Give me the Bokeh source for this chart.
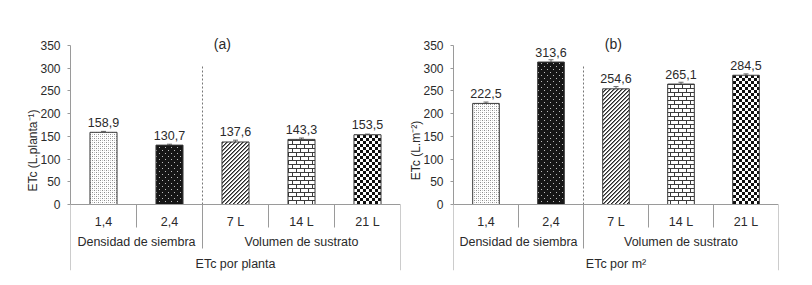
import base64, struct, zlib
from bokeh.plotting import figure
from bokeh.layouts import row
from bokeh.models import (Range1d, FixedTicker, Span, ColumnDataSource, ImageURLTexture, Whisker)
from bokeh.core.properties import value
from bokeh.embed import file_html
from bokeh.resources import INLINE

# ---------------- data ----------------
categories = ["1,4", "2,4", "7 L", "14 L", "21 L"]
groups = ["Densidad de siembra", "Volumen de sustrato"]
group_sizes = [2, 3]
etc_planta = [158.9, 130.7, 137.6, 143.3, 153.5]
etc_planta_err = [2.0, 2.0, 4.0, 3.0, 1.5]
etc_m2 = [222.5, 313.6, 254.6, 265.1, 284.5]
etc_m2_err = [3.0, 5.0, 5.0, 4.0, 3.0]
y_ticks = [0, 50, 100, 150, 200, 250, 300, 350]
panel_titles = ["(a)", "(b)"]
panel_groups = ["ETc por planta", "ETc por m²"]
y_labels = ["ETc (L.planta⁻¹)", "ETc (L.m⁻²)"]

FONT = "Liberation Sans"
TXT = "#2a2a2a"
AX = "#9a9a9a"


# ---------------- textures ----------------
def png_b64(pix):
    h = len(pix); w = len(pix[0])
    raw = b"".join(b"\x00" + bytes([c for px in r for c in px]) for r in pix)
    def chunk(t, d):
        return struct.pack(">I", len(d)) + t + d + struct.pack(">I", zlib.crc32(t + d) & 0xffffffff)
    data = (b"\x89PNG\r\n\x1a\n" + chunk(b"IHDR", struct.pack(">IIBBBBB", w, h, 8, 2, 0, 0, 0))
            + chunk(b"IDAT", zlib.compress(raw)) + chunk(b"IEND", b""))
    return "data:image/png;base64," + base64.b64encode(data).decode()


W = (255, 255, 255)

def tile(n, m, f):
    return [[f(x, y) for x in range(n)] for y in range(m)]

tex = {
    "p0": tile(4, 4, lambda x, y: (140, 140, 140) if (x, y) in [(0, 0), (2, 2)]
               else ((200, 200, 200) if (x, y) in [(2, 0), (0, 2)] else W)),
    "p1": tile(6, 6, lambda x, y: (190, 190, 190) if (x, y) in [(0, 0), (3, 3)] else (22, 22, 22)),
    "p2": tile(4, 4, lambda x, y: (40, 40, 40) if (x + y) % 4 == 0 else ((130, 130, 130) if (x + y) % 4 == 1 else W)),
    "p3": tile(8, 8, lambda x, y: (60, 60, 60) if (y % 4 == 0 or (y < 4 and x == 0) or (y > 4 and x == 4)) else W),
    "p4": tile(6, 6, lambda x, y: (15, 15, 15) if ((x // 3) + (y // 3)) % 2 == 0 else W),
}
textures = {k: ImageURLTexture(url=png_b64(v), repetition="repeat") for k, v in tex.items()}
pattern_keys = ["p0", "p1", "p2", "p3", "p4"]


def make_panel(vals, errs, title, group_title, ylabel, width, left, right, title_x):
    k = 159.0 / 350.0          # px per unit
    top_px, frame_h = 30, 240
    ytop = 350 + 15 / k
    ybot = -(frame_h - 15 - 159) / k
    p = figure(width=width, height=285, output_backend="svg", toolbar_location=None,
               x_range=Range1d(0, len(categories)), y_range=Range1d(ybot, ytop),
               min_border_left=left, min_border_right=right, min_border_top=top_px,
               min_border_bottom=285 - top_px - frame_h)
    p.outline_line_color = None
    p.xaxis.visible = False
    p.xgrid.visible = False
    p.ygrid.visible = False
    p.background_fill_color = "white"
    p.border_fill_color = "white"

    ax = p.yaxis[0]
    ax.ticker = FixedTicker(ticks=y_ticks)
    ax.bounds = (0, 350)
    ax.axis_line_color = AX
    ax.major_tick_line_color = AX
    ax.major_tick_out = 3
    ax.major_tick_in = 0
    ax.minor_tick_line_color = None
    ax.major_label_text_font = FONT
    ax.major_label_text_font_size = "12px"
    ax.major_label_text_color = TXT
    ax.major_label_standoff = 7
    ax.axis_label = ylabel
    ax.axis_label_text_font = FONT
    ax.axis_label_text_font_size = "12px"
    ax.axis_label_text_font_style = "normal"
    ax.axis_label_text_color = TXT
    ax.axis_label_standoff = -3

    n = len(categories)
    xs = [i + 0.5 for i in range(n)]
    src = ColumnDataSource(dict(x=xs, top=vals, pat=pattern_keys,
                                lo=[v - e for v, e in zip(vals, errs)],
                                hi=[v + e for v, e in zip(vals, errs)],
                                laby=[v + 10 / k for v in vals],
                                lab=[f"{v:.1f}".replace(".", ",") for v in vals]))
    p.vbar(x="x", top="top", bottom=0, width=0.41, source=src, fill_color="white",
           line_color="#3a3a3a", line_width=1, hatch_pattern="pat", hatch_extra=textures)
    w = Whisker(base="x", lower="lo", upper="hi", source=src, line_color="#666666", line_width=1)
    w.upper_head.size = 5
    w.lower_head.size = 5
    w.upper_head.line_color = "#666666"
    w.lower_head.line_color = "#666666"
    p.add_layout(w)
    p.text(x="x", y="laby", text="lab", source=src, text_align="center", text_baseline="middle",
           text_font=value(FONT), text_font_size="12.5px", text_color=TXT)

    # axis lines
    p.add_layout(Span(location=0, dimension="width", line_color=AX, line_width=1))

    # separators (left edge continues the y-axis down)
    row1 = -23 / k
    row2 = -44 / k
    bounds = []
    acc = 0
    for g in group_sizes:
        acc += g
        bounds.append(acc)
    sep_x, sep_y = [0], [ybot]
    for i in range(1, n + 1):
        sep_x.append(i)
        if i == n:
            sep_y.append(ybot)
        elif i in bounds:
            sep_y.append(row2)
        else:
            sep_y.append(row1)
    p.segment(x0=sep_x, y0=[0] * len(sep_x), x1=sep_x, y1=sep_y, line_color=AX, line_width=1)

    # dashed group divider inside plot
    div_x = [b for b in bounds[:-1]]
    p.segment(x0=div_x, y0=[0] * len(div_x), x1=div_x, y1=[308] * len(div_x),
              line_color="#777777", line_width=1, line_dash="2 2")

    # category labels
    p.text(x=xs, y=[-17 / k] * n, text=categories, text_align="center", text_baseline="middle",
           text_font=value(FONT), text_font_size="12.5px", text_color=TXT)
    gx = []
    start = 0
    for g in group_sizes:
        gx.append(start + g / 2)
        start += g
    p.text(x=gx, y=[-37 / k] * len(gx), text=groups, text_align="center", text_baseline="middle",
           text_font=value(FONT), text_font_size="12.5px", text_color=TXT)
    p.text(x=[n / 2], y=[-59 / k], text=[group_title], text_align="center", text_baseline="middle",
           text_font=value(FONT), text_font_size="12.5px", text_color=TXT)

    # panel title
    p.text(x=[title_x], y=[350 + 2 / k], text=[title], text_align="center", text_baseline="middle",
           text_font=value(FONT), text_font_size="14px", text_color=TXT)
    return p


pa = make_panel(etc_planta, etc_planta_err, panel_titles[0], panel_groups[0], y_labels[0],
                406, 70, 6, 2.3)
pb = make_panel(etc_m2, etc_m2_err, panel_titles[1], panel_groups[1], y_labels[1],
                406, 45, 34, 2.46)

layout = row(pa, pb, spacing=0)
open("out.html", "w").write(file_html(layout, INLINE))
